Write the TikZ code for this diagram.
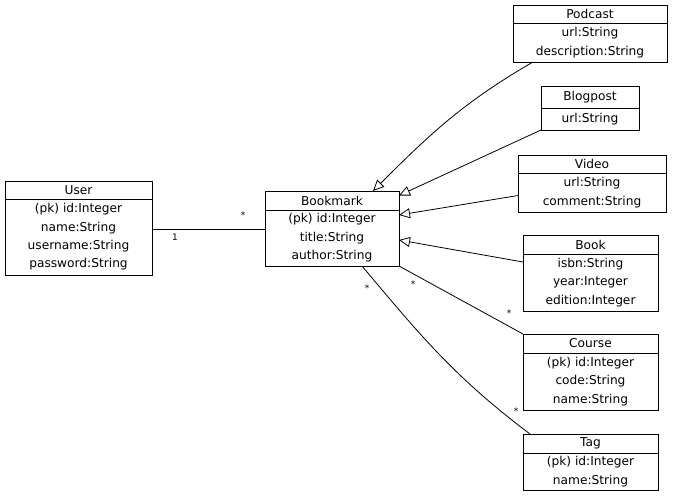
\documentclass[tikz,border=0pt]{standalone}
\usepackage{fontspec}
\setmainfont{DejaVu Sans}
\usetikzlibrary{arrows.meta,positioning}

\begin{document}
\begin{tikzpicture}[x=1pt, y=-1pt,
  head/.style={draw,line width=0.8pt,anchor=north west,inner sep=0pt,outer sep=0pt,font=\fontsize{12.2}{14}\selectfont},
  attrs/.style={draw,line width=0.8pt,inner sep=0pt,outer sep=0pt,align=center,font=\fontsize{12.2}{18.4}\selectfont},
  inherit/.style={-{Triangle[open,length=11pt,width=10pt]},line width=0.8pt},
  assoc/.style={line width=0.8pt},
  mult/.style={inner sep=0pt,font=\fontsize{9}{10}\selectfont}]
  \useasboundingbox (0,0) rectangle (675,496);
  % classes
  \node[head,minimum width=147pt,minimum height=18pt] (userh) at (5,181) {User};
  \node[attrs,minimum width=147pt,minimum height=76pt,below=0pt of userh] (userb)
    {(pk) id:Integer\\name:String\\username:String\\password:String};
  \node[head,minimum width=134pt,minimum height=19pt] (bmh) at (265,191) {Bookmark};
  \node[attrs,minimum width=134pt,minimum height=56pt,below=0pt of bmh] (bmb)
    {(pk) id:Integer\\title:String\\author:String};
  \node[head,minimum width=154pt,minimum height=18pt] (podh) at (513,5) {Podcast};
  \node[attrs,minimum width=154pt,minimum height=39pt,below=0pt of podh] (podb)
    {url:String\\description:String};
  \node[head,minimum width=98pt,minimum height=22pt] (blogh) at (541,86) {Blogpost};
  \node[attrs,minimum width=98pt,minimum height=22pt,below=0pt of blogh] (blogb) {url:String};
  \node[head,minimum width=148pt,minimum height=18pt] (vidh) at (518,155) {Video};
  \node[attrs,minimum width=148pt,minimum height=39pt,below=0pt of vidh] (vidb)
    {url:String\\comment:String};
  \node[head,minimum width=135pt,minimum height=19pt] (bookh) at (523,235) {Book};
  \node[attrs,minimum width=135pt,minimum height=57pt,below=0pt of bookh] (bookb)
    {isbn:String\\year:Integer\\edition:Integer};
  \node[head,minimum width=135pt,minimum height=19pt] (crsh) at (523,334) {Course};
  \node[attrs,minimum width=135pt,minimum height=57pt,below=0pt of crsh] (crsb)
    {(pk) id:Integer\\code:String\\name:String};
  \node[head,minimum width=135pt,minimum height=19pt] (tagh) at (523,434) {Tag};
  \node[attrs,minimum width=135pt,minimum height=37pt,below=0pt of tagh] (tagb)
    {(pk) id:Integer\\name:String};
  % generalizations
  \draw[inherit] ([xshift=20pt]podb.south west) to[out=210,in=45] ([xshift=-26pt]bmh.north east);
  \draw[inherit] (blogb.south west) -- ([yshift=5pt]bmh.east);
  \draw[inherit] ([yshift=-3pt]vidb.west) -- ([yshift=-5pt]bmb.north east);
  \draw[inherit] ([yshift=-8pt]bookb.north west) -- ([yshift=-2pt]bmb.east);
  % associations
  \draw[assoc] ([yshift=8pt]userb.east) -- ([yshift=9pt]bmb.west);
  \draw[assoc] (bmb.south east) -- (crsh.north west);
  \draw[assoc] ([xshift=-37pt]bmb.south east) to[out=-50,in=143] ([xshift=7pt]tagh.north west);
  \node[mult] (m1) at (175,237) {1};
  \node[mult] (m2) at (243,215) {*};
  \node[mult] (m3) at (413,284) {*};
  \node[mult] (m4) at (509,313) {*};
  \node[mult] (m5) at (367,288) {*};
  \node[mult] (m6) at (516,411) {*};
\end{tikzpicture}
\end{document}
